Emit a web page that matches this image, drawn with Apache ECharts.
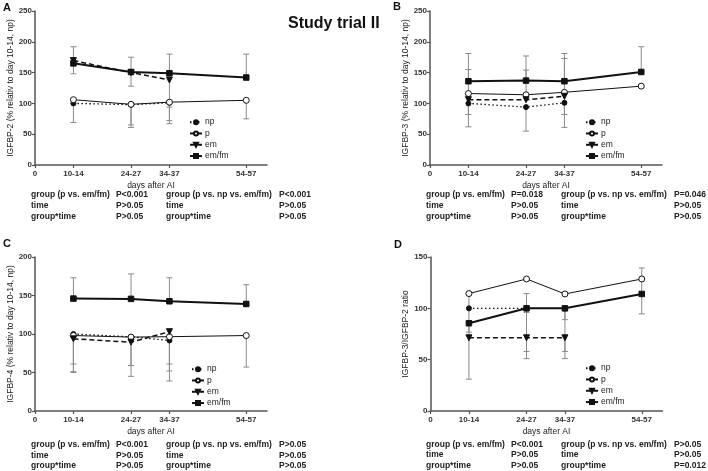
<!DOCTYPE html>
<html><head><meta charset="utf-8">
<script src="https://cdn.jsdelivr.net/npm/echarts@6/dist/echarts.min.js"></script>
<style>html,body{margin:0;padding:0;background:#fff}#c{width:708px;height:471px}</style>
</head><body><div id="c"></div>
<script>
// ---- data ----
const xPos = [1, 2.5, 3.5, 5.5];
const xTickVals = [0, 1, 2.5, 3.5, 5.5];
const xTickLabels = ['0', '10-14', '24-27', '34-37', '54-57'];
const seriesNames = ['np', 'p', 'em', 'em/fm'];

// Panel A: IGFBP-2
const A_np = [100, 98, 101, null];
const A_np_lo = [69, 61, 67, null];
const A_p = [106, 98.5, 102, 105];
const A_p_lo = [null, 65, 72, 75];
const A_em = [169.5, 150, 138, null];
const A_em_lo = [null, null, 94, null];
const A_emfm = [165, 151, 149, 142];
const A_emfm_hi = [192, 175, 180, 180];
const A_emfm_lo = [148, 128, null, null];

// Panel B: IGFBP-3
const B_np = [100, 94, 101, null];
const B_np_lo = [62, 55, 61, null];
const B_p = [116, 114, 118, 128];
const B_p_lo = [82, null, 82, null];
const B_em = [106, 106, 111.5, null];
const B_em_hi = [155, 154, 173, null];
const B_emfm = [136, 137, 136, 151];
const B_emfm_hi = [181, 177, 181, 192];

// Panel C: IGFBP-4
const C_np = [100, 96.3, 91.6, null];
const C_np_lo = [51, 45, 39, null];
const C_p = [98, 96, 96.5, 98];
const C_p_lo = [61, 59, 61, 57];
const C_em = [93.7, 89.4, 103, null];
const C_em_lo = [50, null, 52, null];
const C_emfm = [146, 145.6, 142.5, 139];
const C_emfm_hi = [173, 178, 173, 164];

// Panel D: IGFBP-3/IGFBP-2 ratio
const D_np = [100, 100, 100, null];
const D_np_lo = [null, 58, 58, null];
const D_p = [114.4, 128.6, 114, 128.6];
const D_p_lo = [31, null, null, null];
const D_em = [71.3, 71.3, 71.3, null];
const D_em_lo = [null, 51, 51, null];
const D_emfm = [85.5, 100, 100, 114];
const D_emfm_hi = [null, 114.4, null, 139.3];
const D_emfm_lo = [76.8, 96, 89, 94.6];

const yTitles = ['IGFBP-2 (% relativ to day 10-14, np)', 'IGFBP-3 (% relativ to day 10-14, np)', 'IGFBP-4 (% relativ to day 10-14, np)', 'IGFBP-3/IGFBP-2 ratio'];
const yMax = [250, 250, 200, 150];
const panelLetters = ['A', 'B', 'C', 'D'];
const xTitle = 'days after AI';
const mainTitle = 'Study trial II';

const statsA = [['group (p vs. em/fm)', 'P<0.001', 'group (p vs. np vs. em/fm)', 'P<0.001'], ['time', 'P>0.05', 'time', 'P>0.05'], ['group*time', 'P>0.05', 'group*time', 'P>0.05']];
const statsB = [['group (p vs. em/fm)', 'P=0.018', 'group (p vs. np vs. em/fm)', 'P=0.046'], ['time', 'P>0.05', 'time', 'P>0.05'], ['group*time', 'P>0.05', 'group*time', 'P>0.05']];
const statsC = [['group (p vs. em/fm)', 'P<0.001', 'group (p vs. np vs. em/fm)', 'P>0.05'], ['time', 'P>0.05', 'time', 'P>0.05'], ['group*time', 'P>0.05', 'group*time', 'P>0.05']];
const statsD = [['group (p vs. em/fm)', 'P<0.001', 'group (p vs. np vs. em/fm)', 'P>0.05'], ['time', 'P>0.05', 'time', 'P>0.05'], ['group*time', 'P>0.05', 'group*time', 'P=0.012']];

const panels = [
  {vals: [A_np, A_p, A_em, A_emfm], lo: [A_np_lo, A_p_lo, A_em_lo, A_emfm_lo], hi: [null, null, null, A_emfm_hi], stats: statsA},
  {vals: [B_np, B_p, B_em, B_emfm], lo: [B_np_lo, B_p_lo, null, null], hi: [null, null, B_em_hi, B_emfm_hi], stats: statsB},
  {vals: [C_np, C_p, C_em, C_emfm], lo: [C_np_lo, C_p_lo, C_em_lo, null], hi: [null, null, null, C_emfm_hi], stats: statsC},
  {vals: [D_np, D_p, D_em, D_emfm], lo: [D_np_lo, D_p_lo, D_em_lo, D_emfm_lo], hi: [null, null, null, D_emfm_hi], stats: statsD}
];

// ---- layout ----
const FONT = 'Liberation Sans, Arial, sans-serif';
const gridPos = [
  {left: 35, top: 11, width: 232, height: 154},
  {left: 430, top: 11, width: 232, height: 154},
  {left: 35, top: 257, width: 232, height: 154},
  {left: 430.5, top: 257, width: 232, height: 154}
];
const legendPos = [{left: 189, top: 117}, {left: 585, top: 117}, {left: 191, top: 364}, {left: 585, top: 363}];
const letterPos = [[3, 7], [393, 6], [3, 243], [394, 244]];
const statsPos = [
  {cols: [31, 116, 166, 279], rows: [195, 206, 217]},
  {cols: [426, 511, 561, 674], rows: [195, 206, 217]},
  {cols: [31, 116, 166, 279], rows: [445, 455.5, 466]},
  {cols: [426, 511, 561, 674], rows: [444.5, 455, 466]}
];
const styles = [
  {symbol: 'circle', symbolSize: 5, lineType: [1.5, 2.5], width: 1.3, fill: '#111'},
  {symbol: 'circle', symbolSize: 6, lineType: 'solid', width: 1, fill: '#fff'},
  {symbol: 'triangle', symbolRotate: 180, symbolSize: 6, lineType: [5, 3], width: 1.5, fill: '#111'},
  {symbol: 'rect', symbolSize: 5.5, lineType: 'solid', width: 2, fill: '#111'}
];

const grid = [], xAxis = [], yAxis = [], series = [], legend = [], graphic = [];
panels.forEach((pn, gi) => {
  grid.push(Object.assign({}, gridPos[gi]));
  xAxis.push({
    type: 'value', gridIndex: gi, min: 0, max: 6.04,
    name: xTitle, nameLocation: 'middle', nameGap: 16,
    nameTextStyle: {fontSize: 8.5, color: '#222', fontFamily: FONT},
    axisLine: {lineStyle: {color: '#555', width: 1.5}},
    axisTick: {show: true, customValues: xTickVals, length: 3, lineStyle: {color: '#555', width: 1.2}},
    axisLabel: {customValues: xTickVals, fontSize: 8, margin: 5, color: '#333', fontFamily: FONT, fontWeight: 'bold',
      formatter: v => { const i = xTickVals.indexOf(v); return i >= 0 ? xTickLabels[i] : ''; }},
    splitLine: {show: false}
  });
  yAxis.push({
    type: 'value', gridIndex: gi, min: 0, max: yMax[gi], interval: 50,
    name: yTitles[gi], nameLocation: 'middle', nameRotate: 90, nameGap: 13,
    nameTextStyle: {fontSize: 8.5, color: '#222', fontFamily: FONT},
    axisLine: {show: true, lineStyle: {color: '#555', width: 1.5}},
    axisTick: {show: true, length: 3, lineStyle: {color: '#555', width: 1.2}},
    axisLabel: {fontSize: 8, margin: 3, color: '#333', fontFamily: FONT, fontWeight: 'bold'},
    splitLine: {show: false}
  });
  // error bars
  const segs = [];
  pn.vals.forEach((vals, si) => {
    const lo = pn.lo[si], hi = pn.hi[si];
    vals.forEach((v, i) => {
      if (v == null) return;
      if (lo && lo[i] != null) segs.push([xPos[i], v, lo[i]]);
      if (hi && hi[i] != null) segs.push([xPos[i], v, hi[i]]);
    });
  });
  series.push({
    type: 'custom', xAxisIndex: gi, yAxisIndex: gi, z: 1, silent: true,
    data: segs, encode: {x: 0, y: [1, 2]},
    renderItem: (params, api) => {
      const x = api.value(0);
      const p1 = api.coord([x, api.value(1)]);
      const p2 = api.coord([x, api.value(2)]);
      const st = {stroke: '#8a8a8a', lineWidth: 1};
      return {type: 'group', children: [
        {type: 'line', shape: {x1: p1[0], y1: p1[1], x2: p2[0], y2: p2[1]}, style: st},
        {type: 'line', shape: {x1: p2[0] - 3, y1: p2[1], x2: p2[0] + 3, y2: p2[1]}, style: st}
      ]};
    }
  });
  pn.vals.forEach((vals, si) => {
    const s = styles[si];
    series.push({
      type: 'line', name: seriesNames[si], xAxisIndex: gi, yAxisIndex: gi, z: 3,
      data: vals.map((v, i) => v == null ? null : [xPos[i], v]).filter(d => d),
      symbol: s.symbol, symbolSize: s.symbolSize, symbolRotate: s.symbolRotate || 0,
      showAllSymbol: true, animation: false,
      lineStyle: {color: '#111', width: s.width, type: s.lineType},
      itemStyle: {color: s.fill, borderColor: '#111', borderWidth: 1}
    });
  });
  legend.push({
    orient: 'vertical', left: legendPos[gi].left, top: legendPos[gi].top,
    data: seriesNames, itemWidth: 12, itemHeight: 5, itemGap: 1,
    selectedMode: false, padding: 0,
    textStyle: {fontSize: 8.5, lineHeight: 10.3, color: '#222', fontFamily: FONT, padding: [0, 0, 0, -2]}
  });
  graphic.push({type: 'text', left: letterPos[gi][0], top: letterPos[gi][1] - 5,
    style: {text: panelLetters[gi], font: 'bold 11px ' + FONT, fill: '#111'}});
  const sp = statsPos[gi];
  pn.stats.forEach((row, ri) => {
    row.forEach((t, ci) => {
      graphic.push({type: 'text', x: sp.cols[ci], y: sp.rows[ri],
        style: {text: t, font: 'bold 8.5px ' + FONT, fill: '#222', verticalAlign: 'middle'}});
    });
  });
});
graphic.push({type: 'text', x: 288, y: 24, style: {text: mainTitle, font: 'bold 16px ' + FONT, fill: '#111', verticalAlign: 'middle'}});

const chart = echarts.init(document.getElementById('c'), null, {renderer: 'canvas'});
chart.setOption({animation: false, backgroundColor: '#fff', grid, xAxis, yAxis, series, legend, graphic});
</script></body></html>
